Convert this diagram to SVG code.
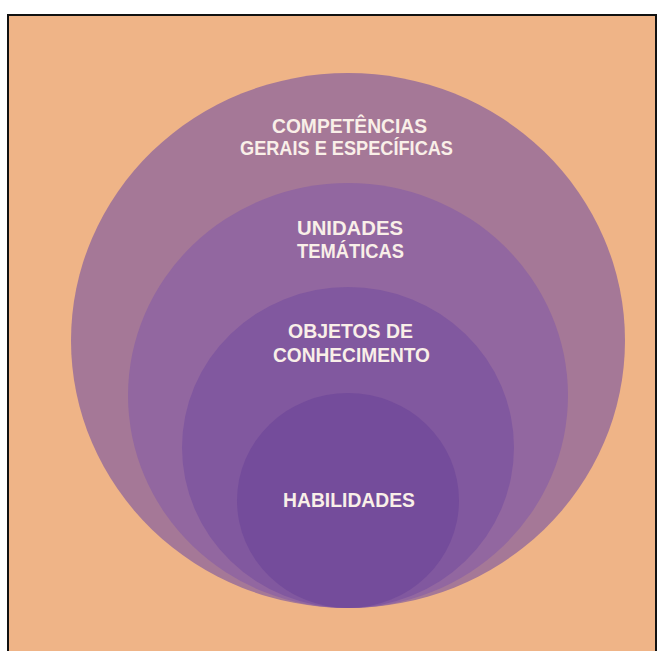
<svg xmlns="http://www.w3.org/2000/svg" width="661" height="651" viewBox="0 0 661 651">
<style>
.lbl{font-family:"Liberation Sans","Open Sans",Arial,sans-serif;font-weight:bold;font-size:19.5px;fill:#F9EFE8;text-anchor:middle}
</style>
<rect x="0" y="0" width="661" height="651" fill="#FFFFFF"/>
<rect x="8" y="15" width="648" height="640" fill="#EFB487"/>
<path d="M8,651 V15 H656 V651" fill="none" stroke="#111111" stroke-width="2"/>
<g id="competencias">
<ellipse cx="348" cy="340.5" rx="277" ry="267.5" fill="#A57897"/>
<text class="lbl" x="349.5" y="133" textLength="155" lengthAdjust="spacingAndGlyphs">COMPETÊNCIAS</text>
<text class="lbl" x="346.5" y="155" textLength="213" lengthAdjust="spacingAndGlyphs">GERAIS E ESPECÍFICAS</text>
</g>
<g id="unidades">
<ellipse cx="348" cy="395.5" rx="220" ry="212.5" fill="#9267A0"/>
<text class="lbl" x="350" y="235" textLength="106" lengthAdjust="spacingAndGlyphs">UNIDADES</text>
<text class="lbl" x="350.5" y="258" textLength="107" lengthAdjust="spacingAndGlyphs">TEMÁTICAS</text>
</g>
<g id="objetos">
<ellipse cx="348" cy="447.5" rx="166" ry="160.5" fill="#81589F"/>
<text class="lbl" x="350.5" y="338" textLength="125" lengthAdjust="spacingAndGlyphs">OBJETOS DE</text>
<text class="lbl" x="351.5" y="362" textLength="157" lengthAdjust="spacingAndGlyphs">CONHECIMENTO</text>
</g>
<g id="habilidades">
<ellipse cx="348" cy="500.5" rx="111" ry="107.5" fill="#744C9B"/>
<text class="lbl" x="349" y="507" textLength="132" lengthAdjust="spacingAndGlyphs">HABILIDADES</text>
</g>
<g id="connectors"/>
</svg>
